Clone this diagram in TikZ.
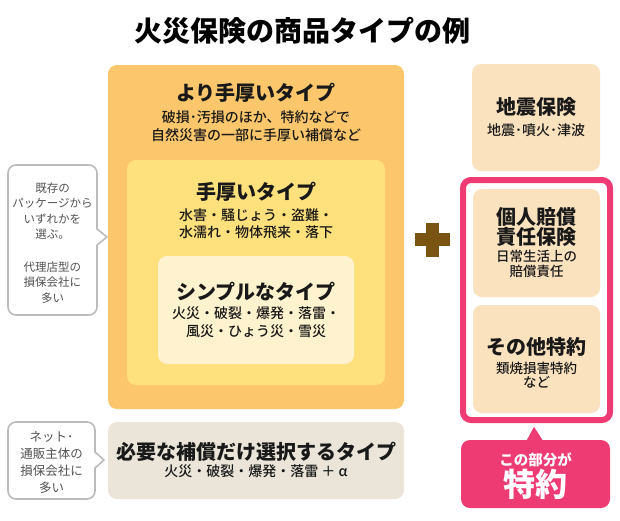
\documentclass[tikz,border=0pt]{standalone}
\usepackage{fontspec}
\setmainfont{Noto Sans CJK JP}[BoldFont={Noto Sans CJK JP Black}]
\newfontfamily\medfont{Noto Sans CJK JP Medium}
\usetikzlibrary{positioning,calc}
\definecolor{thickbg}{HTML}{FCC66C}
\definecolor{midbg}{HTML}{FEE07C}
\definecolor{simplebg}{HTML}{FFF2CE}
\definecolor{netbg}{HTML}{EAE5D8}
\definecolor{optbg}{HTML}{FAE2BF}
\definecolor{tokuyaku}{HTML}{EF3B73}
\definecolor{plusbrown}{HTML}{7A5413}
\definecolor{notegray}{HTML}{BBBBBB}
\tikzset{panel/.style={rounded corners=9pt,inner sep=0pt}}
\tikzset{head/.style={inner sep=0pt,text=black!90,font=\bfseries\fontsize{20}{18}\selectfont,align=center}}
\tikzset{detail/.style={inner sep=0pt,text=black!90,font=\medfont\fontsize{14}{18}\selectfont,align=center}}
\tikzset{note/.style={draw=notegray,line width=1.6pt,fill=white,line join=round}}
\tikzset{notetext/.style={inner sep=0pt,text=black!68,font=\fontsize{11.5}{15.5}\selectfont,align=center}}

\begin{document}
\begin{tikzpicture}[x=1pt,y=-1pt]
  \useasboundingbox[fill=white] (0,0) rectangle (620,520);
  \node[inner sep=0pt,font=\bfseries\fontsize{28}{28}\selectfont] (title) at (302,31) {火災保険の商品タイプの例};
  % left column
  \node[panel,fill=thickbg,minimum width=296pt,minimum height=344pt] (thick) at (256,237) {};
  \node[panel,fill=midbg,minimum width=258pt,minimum height=225pt] (mid) at (256,272.5) {};
  \node[panel,fill=simplebg,minimum width=196pt,minimum height=108pt] (simple) at (256,310) {};
  \node[panel,fill=netbg,minimum width=296pt,minimum height=77pt] (net) at (256,460.5) {};
  \node[head] (thickT) at (256,93) {より手厚いタイプ};
  \node[detail] (thickD) at (256,126) {破損･汚損のほか、特約などで\\自然災害の一部に手厚い補償など};
  \node[head] (midT) at (256,192) {手厚いタイプ};
  \node[detail,font=\medfont\fontsize{14}{17}\selectfont] (midD) at (256,223.5) {水害・騒じょう・盗難・\\水濡れ・物体飛来・落下};
  \node[head] (simpleT) at (256,292) {シンプルなタイプ};
  \node[detail] (simpleD) at (256,322.5) {火災・破裂・爆発・落雷・\\風災・ひょう災・雪災};
  \node[head] (netT) at (256,452) {必要な補償だけ選択するタイプ};
  \node[detail] (netD) at (256,471) {火災・破裂・爆発・落雷 ＋ α};
  % speech bubbles
  \draw[note] (97,229) -- (107,237) -- (97,245) {[rounded corners=8pt] -- (97,315) -- (8,315) -- (8,165) -- (97,165)} -- cycle;
  \node[notetext] (agentN) at (52.5,243) {既存の\\パッケージから\\いずれかを\\選ぶ。\\[17pt]代理店型の\\損保会社に\\多い};
  \draw[note] (95,452) -- (104,460) -- (95,468) {[rounded corners=8pt] -- (95,499) -- (8,499) -- (8,422) -- (95,422)} -- cycle;
  \node[notetext,font=\fontsize{12.5}{17}\selectfont] (netN) at (51.5,462.5) {ネット･\\通販主体の\\損保会社に\\多い};
  % plus
  \fill[plusbrown] (415,233) rectangle (450,246);
  \fill[plusbrown] (426,223) rectangle (439,257);
  % right column
  \node[panel,fill=optbg,minimum width=128pt,minimum height=107pt] (quake) at (536,117.5) {};
  \node[head] (quakeT) at (536,107) {地震保険};
  \node[detail] (quakeD) at (536,130) {地震･噴火･津波};
  \node[panel,draw=tokuyaku,line width=6pt,rounded corners=8pt,minimum width=147pt,minimum height=240pt] (frame) at (536.5,300) {};
  \node[panel,fill=optbg,minimum width=127pt,minimum height=108pt] (liab) at (536.5,243) {};
  \node[head] (liabT) at (536.5,227) {個人賠償\\責任保険};
  \node[detail,font=\medfont\fontsize{13.5}{15}\selectfont] (liabD) at (536.5,264) {日常生活上の\\賠償責任};
  \node[panel,fill=optbg,minimum width=127pt,minimum height=108pt] (other) at (536.5,359) {};
  \node[head] (otherT) at (536.5,347) {その他特約};
  \node[detail,font=\medfont\fontsize{13.5}{14}\selectfont] (otherD) at (536.5,375) {類焼損害特約\\など};
  % tag below the frame
  \node[panel,fill=tokuyaku,minimum width=149pt,minimum height=68pt] (tag) at (535.5,474) {};
  \fill[tokuyaku] ($(tag.north)+(-9,1)$) -- ($(tag.north)+(-1.5,-13)$) -- ($(tag.north)+(7.5,1)$) -- cycle;
  \node[inner sep=0pt,text=white,font=\bfseries\fontsize{14.5}{14.5}\selectfont] (tagA) at (535.5,460) {この部分が};
  \node[inner sep=0pt,text=white,font=\bfseries\fontsize{32}{32}\selectfont] (tagB) at (535.5,484) {特約};
\end{tikzpicture}
\end{document}
